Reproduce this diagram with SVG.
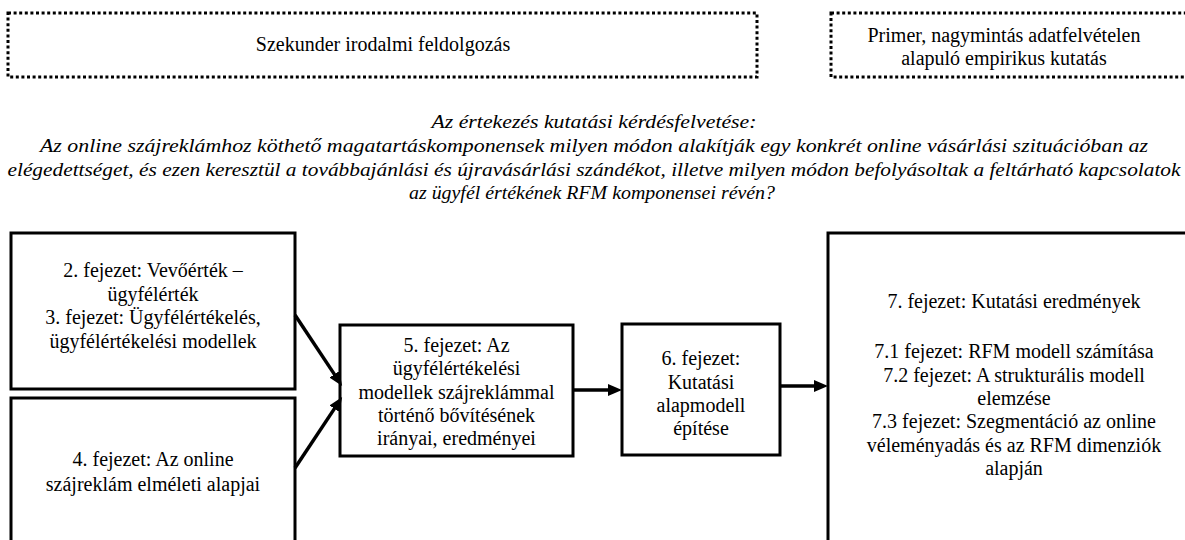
<svg xmlns="http://www.w3.org/2000/svg" width="1185" height="540" viewBox="0 0 1185 540">
<style>
.dot{fill:none;stroke:#000;stroke-width:3;stroke-dasharray:3 2.6}
.box{fill:#fff;stroke:#000;stroke-width:3}
.t{font-size:20px;fill:#000;text-anchor:middle}
.q{font-size:19px;font-style:italic;fill:#000;text-anchor:middle}
.arr{stroke:#000;stroke-width:3.5;fill:none;marker-end:url(#ah)}
</style>
<defs>
<marker id="ah" markerUnits="userSpaceOnUse" markerWidth="14" markerHeight="14" viewBox="0 0 14 14" refX="4" refY="7" orient="auto">
<path d="M0,1 L14,7 L0,13 z" fill="#000"/>
</marker>
</defs>
<rect width="1185" height="540" fill="#fff"/>
<g font-family="Liberation Serif, Times New Roman, DejaVu Serif, serif">
<g id="secondary">
<rect class="dot" x="8" y="13" width="749" height="64"/>
<text class="t" x="383" y="51">Szekunder irodalmi feldolgozás</text>
</g>
<g id="primary">
<rect class="dot" x="831" y="13" width="360" height="64"/>
<text class="t" x="1004" y="42">Primer, nagymintás adatfelvételen</text>
<text class="t" x="1004" y="65">alapuló empirikus kutatás</text>
</g>
<g id="question">
<text class="q" x="594" y="128" textLength="325" lengthAdjust="spacingAndGlyphs">Az értekezés kutatási kérdésfelvetése:</text>
<text class="q" x="594" y="152" textLength="1108" lengthAdjust="spacingAndGlyphs">Az online szájreklámhoz köthető magatartáskomponensek milyen módon alakítják egy konkrét online vásárlási szituációban az</text>
<text class="q" x="594" y="176" textLength="1173" lengthAdjust="spacingAndGlyphs">elégedettséget, és ezen keresztül a továbbajánlási és újravásárlási szándékot, illetve milyen módon befolyásoltak a feltárható kapcsolatok</text>
<text class="q" x="592" y="199" textLength="366" lengthAdjust="spacingAndGlyphs">az ügyfél értékének RFM komponensei révén?</text>
</g>
<g id="ch2-3">
<rect class="box" x="11" y="233" width="284" height="156"/>
<text class="t" x="153" y="277">2. fejezet: Vevőérték –</text>
<text class="t" x="153" y="300.5">ügyfélérték</text>
<text class="t" x="153" y="324">3. fejezet: Ügyfélértékelés,</text>
<text class="t" x="153" y="347.5">ügyfélértékelési  modellek</text>
</g>
<g id="ch4">
<rect class="box" x="11" y="398" width="284" height="160"/>
<text class="t" x="153" y="466">4. fejezet: Az online</text>
<text class="t" x="153" y="491">szájreklám elméleti  alapjai</text>
</g>
<g id="ch5">
<rect class="box" x="340" y="325" width="233" height="131"/>
<text class="t" x="456.5" y="352">5. fejezet: Az</text>
<text class="t" x="456.5" y="375">ügyfélértékelési</text>
<text class="t" x="456.5" y="398.5">modellek szájreklámmal</text>
<text class="t" x="456.5" y="421.5">történő bővítésének</text>
<text class="t" x="456.5" y="444.5">irányai, eredményei</text>
</g>
<g id="ch6">
<rect class="box" x="622" y="324" width="158" height="131"/>
<text class="t" x="701" y="365">6. fejezet:</text>
<text class="t" x="701" y="389">Kutatási</text>
<text class="t" x="701" y="412">alapmodell</text>
<text class="t" x="701" y="435">építése</text>
</g>
<g id="ch7">
<rect class="box" x="828" y="233" width="372" height="330"/>
<text class="t" x="1014" y="308">7. fejezet: Kutatási eredmények</text>
<text class="t" x="1014" y="358">7.1 fejezet: RFM modell számítása</text>
<text class="t" x="1014" y="382">7.2 fejezet: A strukturális modell</text>
<text class="t" x="1014" y="405">elemzése</text>
<text class="t" x="1014" y="428">7.3 fejezet: Szegmentáció az online</text>
<text class="t" x="1014" y="452">véleményadás és az RFM dimenziók</text>
<text class="t" x="1014" y="475">alapján</text>
</g>
</g>
<g id="connectors">
<line class="arr" x1="295" y1="315" x2="336.6" y2="377.6"/>
<line class="arr" x1="295" y1="468" x2="336.6" y2="405.4"/>
<line class="arr" x1="573" y1="390" x2="612" y2="390"/>
<line class="arr" x1="780" y1="386" x2="818" y2="386"/>
</g>
</svg>
